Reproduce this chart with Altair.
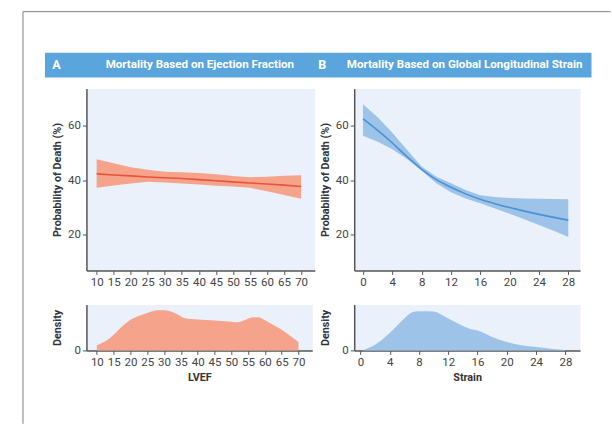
import altair as alt
import pandas as pd

# ---- Panel A: mortality vs LVEF ----
ef_x = [10, 15, 20, 25, 30, 35, 40, 45, 50, 55, 60, 65, 70]
ef_mean = [42.3, 41.9, 41.6, 41.2, 40.9, 40.6, 40.2, 39.8, 39.4, 39.0, 38.6, 38.2, 37.7]
ef_lo = [37.2, 38.1, 38.8, 39.4, 39.2, 38.8, 38.4, 38.0, 37.7, 37.2, 36.0, 34.6, 33.2]
ef_hi = [47.7, 46.2, 44.7, 43.8, 43.1, 42.9, 42.6, 42.2, 41.5, 41.1, 41.3, 41.6, 41.8]

# density of LVEF (relative units)
ef_dx = [10, 13, 15, 18, 20, 22, 25, 28, 30, 32, 34, 36, 38, 40, 45, 50, 52, 54, 56, 58, 60, 62, 65, 68, 70]
ef_dy = [16, 31, 48, 78, 94, 104, 115, 123, 123, 119, 111, 99, 96, 95, 92, 88, 86, 93, 101, 102, 93, 81, 63, 41, 26]

# ---- Panel B: mortality vs GLS ----
gls_x = [0, 2, 4, 6, 8, 10, 12, 14, 16, 18, 20, 22, 24, 26, 28]
gls_mean = [62.4, 58.2, 53.6, 48.6, 44.0, 40.2, 37.4, 35.0, 33.0, 31.4, 30.0, 28.7, 27.5, 26.4, 25.4]
gls_hi = [67.8, 63.0, 57.4, 51.1, 45.0, 41.3, 38.9, 36.4, 34.5, 33.9, 33.5, 33.3, 33.2, 33.1, 33.0]
gls_lo = [56.3, 54.1, 51.3, 47.8, 43.5, 38.9, 35.6, 33.3, 31.6, 29.7, 27.7, 25.7, 23.6, 21.5, 19.2]

gls_dx = [0.5, 2, 4, 6, 7, 8, 10, 11, 12, 14, 15, 16, 18, 20, 22, 24, 26, 28]
gls_dy = [2, 17, 52, 95, 113, 117, 116, 107, 95, 73, 64, 59, 40, 25, 15, 10, 5, 1]

ef_ticks = [10, 15, 20, 25, 30, 35, 40, 45, 50, 55, 60, 65, 70]
gls_ticks = [0, 4, 8, 12, 16, 20, 24, 28]
prob_ticks = [20, 40, 60]

title_a = "Mortality Based on Ejection Fraction"
title_b = "Mortality Based on Global Longitudinal Strain"

FONT = "Roboto"
BG = "#EAF1FA"
RED_BAND = "#F5A38B"
RED_LINE = "#E5553B"
BLUE_BAND = "#9DC3E9"
BLUE_LINE = "#4A92D3"
HEADER = "#5BA5DD"

W_A, W_AD, W_B, H_T, H_D = 228.5, 226, 226, 182, 46
OX, OY = 85.5, 88  # page position of panel A plot origin

dfA = pd.DataFrame({"x": ef_x, "mean": ef_mean, "lo": ef_lo, "hi": ef_hi})
dfAd = pd.DataFrame({"x": ef_dx, "d": ef_dy})
dfB = pd.DataFrame({"x": gls_x, "mean": gls_mean, "lo": gls_lo, "hi": gls_hi})
dfBd = pd.DataFrame({"x": gls_dx, "d": gls_dy})
one = pd.DataFrame({"k": [0]})

yscale = alt.Scale(domain=[7, 73.5], nice=False, zero=False)
yaxis = alt.Axis(values=prob_ticks, title="Probability of Death (%)", titleX=-29, titleY=H_T / 2,
                 titleBaseline="middle", titleAngle=270, labelOverlap=False)

# ---- A top ----
xA_scale = alt.Scale(domain=[7, 74], nice=False, zero=False)
xA_axis = alt.Axis(values=ef_ticks, title=None, labelOverlap=False, labelFlush=False)
a_band = alt.Chart(dfA).mark_area(color=RED_BAND, opacity=1).encode(
    x=alt.X("x:Q", scale=xA_scale, axis=xA_axis),
    y=alt.Y("lo:Q", scale=yscale, axis=yaxis), y2="hi:Q")
a_line = alt.Chart(dfA).mark_line(color=RED_LINE, strokeWidth=1.6).encode(
    x=alt.X("x:Q", scale=xA_scale, axis=xA_axis),
    y=alt.Y("mean:Q", scale=yscale, axis=yaxis))

frame_v = alt.Chart(one).mark_rule(color="#808080", strokeWidth=1).encode(
    x=alt.value(22 - OX), y=alt.value(11 - OY), y2=alt.value(423.5 - OY))
frame_h = alt.Chart(one).mark_rule(color="#808080", strokeWidth=1).encode(
    x=alt.value(22 - OX), x2=alt.value(610 - OX), y=alt.value(11 - OY))
hdr = alt.Chart(one).mark_rect(color=HEADER).encode(
    x=alt.value(44 - OX), x2=alt.value(591 - OX), y=alt.value(52 - OY), y2=alt.value(77 - OY))

def htxt(txt, px, size=11.6):
    return alt.Chart(one).mark_text(color="white", font=FONT, fontWeight="bold", fontSize=size,
                                    align="center", baseline="middle").encode(
        x=alt.value(px - OX), y=alt.value(64.5 - OY), text=alt.value(txt))

a_top = alt.layer(frame_v, frame_h, hdr,
                  htxt("A", 55.5, 12.5), htxt(title_a, 199),
                  htxt("B", 321.5, 12.5), htxt(title_b, 464),
                  a_band, a_line).properties(width=W_A, height=H_T)

# ---- A density ----
a_den = alt.Chart(dfAd).mark_area(color=RED_BAND, interpolate="monotone", opacity=1).encode(
    x=alt.X("x:Q", scale=alt.Scale(domain=[6.9, 74.1], nice=False, zero=False),
            axis=alt.Axis(values=ef_ticks, title="LVEF", labelOverlap=False)),
    y=alt.Y("d:Q", scale=alt.Scale(domain=[0, 141], nice=False),
            axis=alt.Axis(values=[0], title="Density", titleX=-29, titleY=H_D / 2,
                          titleBaseline="middle", titleAngle=270)),
).properties(width=W_AD, height=H_D)

# ---- B top ----
xB_scale = alt.Scale(domain=[-1.2, 29.6], nice=False, zero=False)
xB_axis = alt.Axis(values=gls_ticks, title=None, labelOverlap=False, labelFlush=False)
b_band = alt.Chart(dfB).mark_area(color=BLUE_BAND, opacity=1).encode(
    x=alt.X("x:Q", scale=xB_scale, axis=xB_axis),
    y=alt.Y("lo:Q", scale=yscale, axis=yaxis), y2="hi:Q")
b_line = alt.Chart(dfB).mark_line(color=BLUE_LINE, strokeWidth=1.6, interpolate="monotone").encode(
    x=alt.X("x:Q", scale=xB_scale, axis=xB_axis),
    y=alt.Y("mean:Q", scale=yscale, axis=yaxis))
b_top = alt.layer(b_band, b_line).properties(width=W_B, height=H_T)

# ---- B density ----
b_den = alt.Chart(dfBd).mark_area(color=BLUE_BAND, interpolate="monotone", opacity=1).encode(
    x=alt.X("x:Q", scale=alt.Scale(domain=[-0.85, 30.0], nice=False, zero=False),
            axis=alt.Axis(values=gls_ticks, title="Strain", labelOverlap=False)),
    y=alt.Y("d:Q", scale=alt.Scale(domain=[0, 137], nice=False),
            axis=alt.Axis(values=[0], title="Density", titleX=-29, titleY=H_D / 2,
                          titleBaseline="middle", titleAngle=270)),
).properties(width=W_B, height=H_D)

chart = alt.concat(a_top, b_top, a_den, b_den, columns=2,
                   spacing={"row": 34, "column": 39}, bounds="flush").properties(
    padding={"left": 21.5, "top": 10.5, "right": 0, "bottom": 0}
).configure(background="white", font=FONT).configure_view(
    fill=BG, stroke="transparent"
).configure_axis(
    grid=False, labelFont=FONT, labelFontSize=11.5, labelColor="#444",
    titleFont=FONT, titleFontSize=10.8, titleFontWeight="bold", titleColor="#333",
    domainColor="#555", domainWidth=1.5, tickColor="#555", tickSize=4, tickWidth=1,
    labelPadding=2, titlePadding=4, labelOverlap=False
)

chart.save("out.html", embed_options={"renderer": "svg", "actions": False})
